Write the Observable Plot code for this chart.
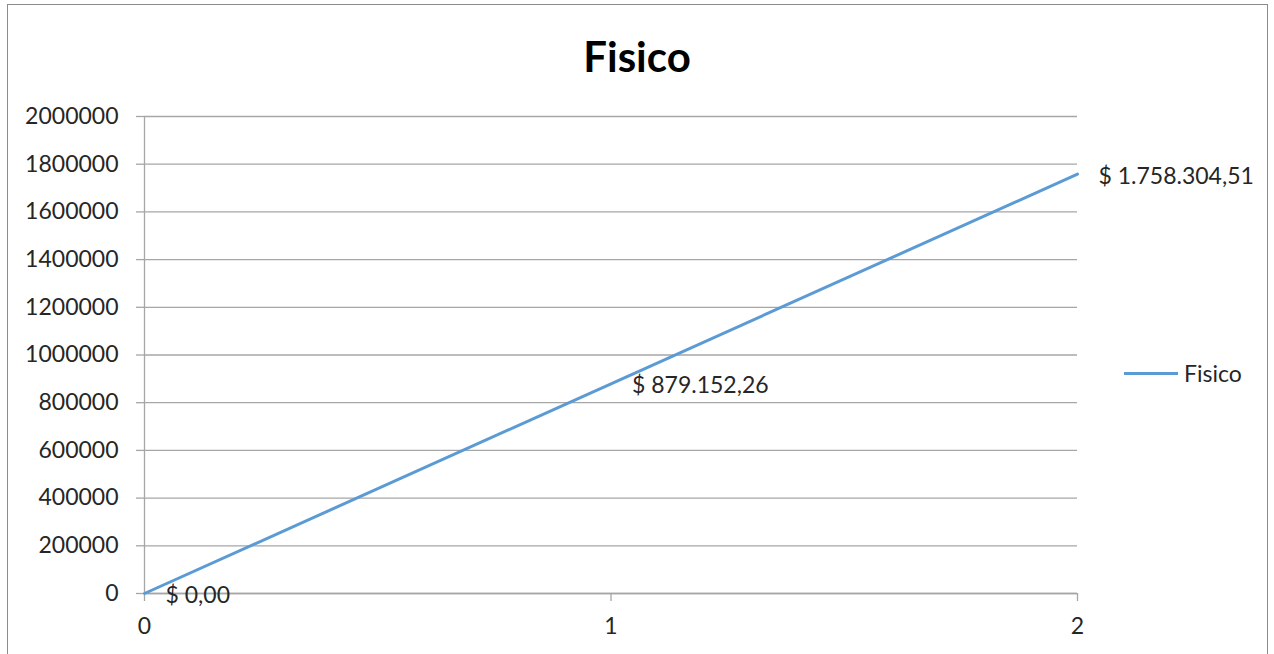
<!DOCTYPE html>
<html>
<head>
<meta charset="utf-8">
<script src="https://cdn.jsdelivr.net/npm/d3@7"></script>
<script src="https://cdn.jsdelivr.net/npm/@observablehq/plot@0.6"></script>
<style>
  html, body { margin: 0; padding: 0; background: #fff; overflow: hidden; }
  body { width: 1274px; height: 654px; position: relative; font-family: Lato, "Open Sans", sans-serif; }
  #frame { position: absolute; left: 7px; top: 4px; width: 1261px; height: 700px; border: 1.5px solid #8c8c8c; box-sizing: border-box; pointer-events: none; }
  #title { height: 100px; text-align: center; font-weight: bold; font-size: 42px; line-height: 1; padding-top: 35px; box-sizing: border-box; color: #000; }
  #legend { position: absolute; left: 1124px; top: 359px; display: flex; align-items: center; font-size: 23px; color: #262626; }
  #legend .sw { width: 54px; height: 3px; background: #5b9bd5; margin-right: 6px; }
  svg { display: block; }
</style>
</head>
<body>
<div id="title">Fisico</div>
<div id="chart"></div>
<div id="legend"><span class="sw"></span><span id="legtext"></span></div>
<div id="frame"></div>
<script>
const seriesName = "Fisico";
const periods = [0, 1, 2];
const values = [0, 879152.26, 1758304.51];
const valueLabels = ["$ 0,00", "$ 879.152,26", "$ 1.758.304,51"];
const xTicks = [0, 1, 2];
const yTicks = [0, 200000, 400000, 600000, 800000, 1000000, 1200000, 1400000, 1600000, 1800000, 2000000];

const data = periods.map((p, i) => ({x: p, y: values[i], label: valueLabels[i]}));

document.getElementById("legtext").textContent = seriesName;

const chart = Plot.plot({
  width: 1274,
  height: 554,
  marginTop: 16,
  marginBottom: 61,
  marginLeft: 144,
  marginRight: 197,
  style: {fontFamily: "Lato, 'Open Sans', sans-serif", fontSize: "23px", color: "#262626", background: "transparent"},
  x: {domain: [0, 2]},
  y: {domain: [0, 2000000]},
  marks: [
    Plot.gridY(yTicks, {stroke: "#a6a6a6", strokeOpacity: 1, strokeWidth: 1.3}),
    Plot.axisY(yTicks, {tickSize: 8, tickPadding: 18, stroke: "#a6a6a6", strokeWidth: 1.3, tickFormat: d => String(d), label: null, fill: "#262626"}),
    Plot.axisX(xTicks, {tickSize: 8, tickPadding: 16, stroke: "#a6a6a6", strokeWidth: 1.3, tickFormat: d => String(d), label: null, fill: "#262626"}),
    Plot.ruleX([0], {stroke: "#a6a6a6", strokeWidth: 1.3}),
    Plot.ruleY([0], {stroke: "#a6a6a6", strokeWidth: 1.3}),
    Plot.line(data, {x: "x", y: "y", stroke: "#5b9bd5", strokeWidth: 3}),
    Plot.text(data, {x: "x", y: "y", text: "label", textAnchor: "start", dx: 21, dy: 2, fill: "#262626", fontSize: 23})
  ]
});
document.getElementById("chart").appendChild(chart);
</script>
</body>
</html>
